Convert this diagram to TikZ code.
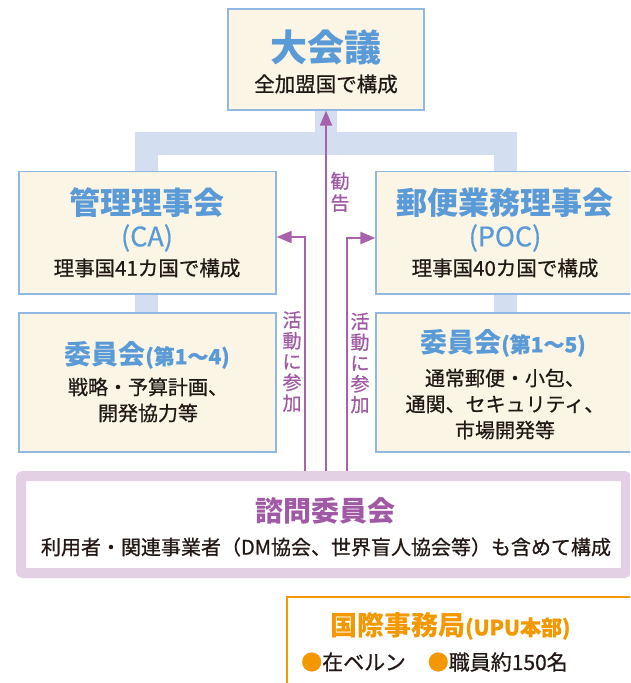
\documentclass[tikz,border=0pt]{standalone}
\usepackage{fontspec}
\setmainfont{Noto Sans CJK JP}
\newfontfamily\medfont[FakeBold=0.7]{Noto Sans CJK JP}
\usetikzlibrary{arrows.meta}
\definecolor{bandc}{HTML}{D3DFF1}
\definecolor{boxfill}{HTML}{FBF5E5}
\definecolor{boxline}{HTML}{90B8E0}
\definecolor{titleblue}{HTML}{5A9AD6}
\definecolor{bodyc}{HTML}{231815}
\definecolor{purp}{HTML}{A862AC}
\definecolor{purptext}{HTML}{A05AA5}
\definecolor{advborder}{HTML}{E3D0E5}
\definecolor{orng}{HTML}{F39800}
\begin{document}
\begin{tikzpicture}[x=1pt,y=-1pt,
  box/.style={draw=boxline, line width=1.2pt, fill=boxfill, inner sep=0pt},
  bandline/.style={draw=bandc, line width=22.5pt, line join=miter, line cap=butt},
  parrow/.style={draw=purp, line width=2pt, -{Triangle[length=15pt,width=12pt]}},
  bigtitle/.style={text=titleblue, inner sep=0pt, font=\fontsize{37}{40}\selectfont\bfseries},
  midtitle/.style={text=titleblue, inner sep=0pt, font=\fontsize{31}{34}\selectfont\bfseries},
  subtitle/.style={text=titleblue, inner sep=0pt, font=\medfont\fontsize{27}{30}\selectfont},
  comtitle/.style={text=titleblue, inner sep=0pt, font=\fontsize{27}{30}\selectfont\bfseries},
  bodytext/.style={text=bodyc, inner sep=0pt, align=center, font=\medfont\fontsize{20.5}{26}\selectfont},
  vtext/.style={text=purptext, inner sep=0pt, align=center, font=\medfont\fontsize{19}{20.8}\selectfont},
]
\useasboundingbox (0,0) rectangle (630,683);
\clip (0,0) rectangle (630,683);

% boxes (named positions)
\path (326,59.5) node[box, minimum width=196pt, minimum height=101pt] (ga) {};
\path (147.5,232.75) node[box, minimum width=257pt, minimum height=122.5pt] (ca) {};
\path (505,232.75) node[box, minimum width=258pt, minimum height=122.5pt] (poc) {};
\path (147.5,382.5) node[box, minimum width=257pt, minimum height=139pt] (cac) {};
\path (505,382.5) node[box, minimum width=258pt, minimum height=139pt] (pocc) {};
\path (323.5,524.5) node[draw=advborder, line width=10pt, fill=white, rounded corners=2pt,
  minimum width=605pt, minimum height=97pt, inner sep=0pt] (adv) {};
\path (473.5,658.5) node[draw=orng, line width=1.2pt, fill=white,
  minimum width=373pt, minimum height=123pt, inner sep=0pt] (sec) {};

% band connectors
\draw[bandline] (ga.south) -- (ga.south |- 0,143.5);
\draw[bandline] (ca.north -| 146.5,0) -- (146.5,143.5) -- (505.5,143.5) -- (poc.north -| 505.5,0);
\draw[bandline] (ca.south -| 146.5,0) -- (cac.north -| 146.5,0);
\draw[bandline] (poc.south -| 505.5,0) -- (pocc.north -| 505.5,0);

% boxes again on top of the band
\path (326,59.5) node[box, minimum width=196pt, minimum height=101pt] (ga) {};
\path (147.5,232.75) node[box, minimum width=257pt, minimum height=122.5pt] (ca) {};
\path (505,232.75) node[box, minimum width=258pt, minimum height=122.5pt] (poc) {};
\path (147.5,382.5) node[box, minimum width=257pt, minimum height=139pt] (cac) {};
\path (505,382.5) node[box, minimum width=258pt, minimum height=139pt] (pocc) {};

% texts
\node[bigtitle] (gat) at (326,47) {大会議};
\node[bodytext] (gab) at (326,84) {全加盟国で構成};

\node[midtitle] (cat) at (147,203) {管理理事会};
\node[subtitle] (cas) at (147,238) {(CA)};
\node[bodytext] (cab) at (147,268) {理事国41カ国で構成};

\node[midtitle] (pot) at (505,203) {郵便業務理事会};
\node[subtitle] (pos) at (505,238) {(POC)};
\node[bodytext] (pob) at (505,268) {理事国40カ国で構成};

\node[comtitle] (cact) at (147,355) {委員会{\medfont\fontsize{21}{24}\selectfont(第1～4)}};
\node[bodytext, font=\medfont\fontsize{20}{26}\selectfont] (cacb) at (148,400) {戦略・予算計画、\\開発協力等};

\node[comtitle] (poct) at (503,343) {委員会{\medfont\fontsize{21}{24}\selectfont(第1～5)}};
\node[bodytext, font=\medfont\fontsize{20}{26}\selectfont] (pocb) at (505,404) {通常郵便・小包、\\通関、セキュリティ、\\市場開発等};

\node[inner sep=0pt, text=purptext, font=\fontsize{28}{30}\selectfont\bfseries] (advt) at (325,511) {諮問委員会};
\node[bodytext, font=\medfont\fontsize{20}{24}\selectfont] (advb) at (326,547) {利用者・関連事業者（DM協会、世界盲人協会等）も含めて構成};

\node[anchor=west, inner sep=0pt, text=orng, font=\fontsize{27}{30}\selectfont\bfseries] (sect) at (330,626) {国際事務局{\medfont\fontsize{21}{24}\selectfont(UPU本部)}};
\node[anchor=west, inner sep=0pt, text=bodyc, font=\medfont\fontsize{21}{24}\selectfont] (secb) at (301,662) {{\color{orng}●}在ベルン\hspace{22pt}{\color{orng}●}職員約150名};

% purple arrows
\coordinate (pl) at (305,0);
\coordinate (pr) at (347,0);
\draw[parrow] (adv.north -| ga.south) -- (ga.south);
\draw[parrow] (adv.north -| pl) |- (ca.east |- 0,237);
\draw[parrow] (adv.north -| pr) |- (poc.west |- 0,238);

\node[vtext, font=\medfont\fontsize{19}{22}\selectfont] (kankoku) at (340,192) {勧\\告};
\node[vtext] (sankaL) at (292,361.5) {活\\動\\に\\参\\加};
\node[vtext] (sankaR) at (360,363) {活\\動\\に\\参\\加};
\end{tikzpicture}
\end{document}
